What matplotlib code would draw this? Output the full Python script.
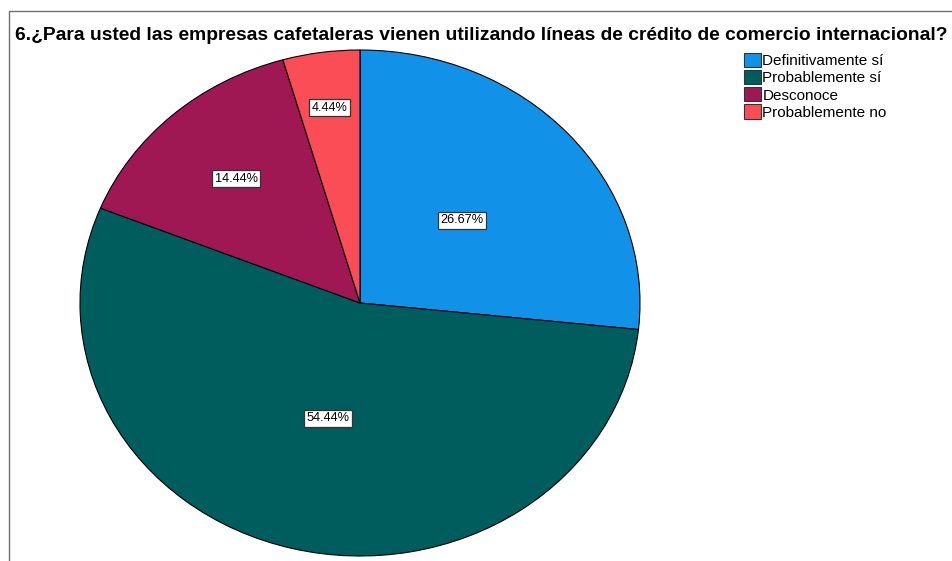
import matplotlib.pyplot as plt
from matplotlib.patches import Rectangle, Patch
import numpy as np

plt.rcParams["font.family"] = ["Liberation Sans", "DejaVu Sans"]

categories = ["Definitivamente sí", "Probablemente sí", "Desconoce", "Probablemente no"]
percent = [26.67, 54.44, 14.44, 4.44]
colors = ["#1192e8", "#005d5d", "#9f1853", "#fa4d56"]
label_radius = [0.49, 0.47, 0.66, 0.78]   # where each % label sits, fraction of radius

title = "6.¿Para usted las empresas cafetaleras vienen utilizando líneas de crédito de comercio internacional?"

W, H = 953, 561
fig = plt.figure(figsize=(W / 100, H / 100), dpi=100)

# outer frame (runs off the right/bottom edge like the screenshot)
fig.add_artist(Rectangle((9 / W, -0.1), 1.2, 1 - 11 / H + 0.1, transform=fig.transFigure,
                         fill=False, edgecolor="#707070", linewidth=1.0))

fig.text(15 / W, 1 - 36 / H, title, fontsize=13.9, fontweight="bold",
         ha="left", va="center")

# elliptical pie: axes box spans the ellipse, aspect left free
ax = fig.add_axes([80 / W, 5 / H, 560 / W, 506 / H])
wedges, _ = ax.pie(percent, colors=colors, startangle=90, counterclock=False,
                   wedgeprops=dict(edgecolor="black", linewidth=0.8))
ax.set_aspect("auto")
ax.set_xlim(-1, 1)
ax.set_ylim(-1, 1)

for w, p, r in zip(wedges, percent, label_radius):
    ang = np.deg2rad((w.theta1 + w.theta2) / 2)
    ax.text(r * np.cos(ang), r * np.sin(ang), f"{p:.2f}%", fontsize=9.2,
            ha="center", va="center",
            bbox=dict(boxstyle="square,pad=0.2", fc="white", ec="#333333", lw=0.9))

handles = [Patch(facecolor=c, edgecolor="#333333", linewidth=0.8) for c in colors]
fig.legend(handles, categories, loc="upper left", bbox_to_anchor=(744 / W, 1 - 53 / H),
           frameon=False, fontsize=11, handlelength=1.1, handleheight=1.05,
           handletextpad=0.1, labelspacing=0.12, borderaxespad=0, borderpad=0)

fig.savefig("out.png", dpi=100, facecolor="white")
